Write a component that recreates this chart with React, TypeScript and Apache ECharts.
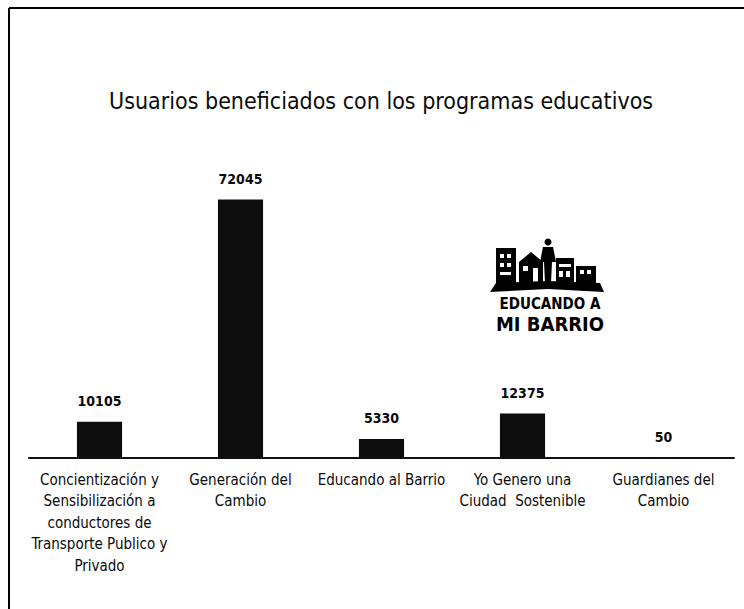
import React, { useEffect, useRef } from "react";
import * as echarts from "echarts";

const categories = [
  "Concientización y\nSensibilización a\nconductores de\nTransporte Publico y\nPrivado",
  "Generación del\nCambio",
  "Educando al Barrio",
  "Yo Genero una\nCiudad  Sostenible",
  "Guardianes del\nCambio",
];
const values = [10105, 72045, 5330, 12375, 50];
const title = "Usuarios beneficiados con los programas educativos";
const logoLines = ["EDUCANDO A", "MI BARRIO"];

const FONT = "'Liberation Sans Narrow', 'DejaVu Sans Condensed', 'Roboto', sans-serif";

export default function App() {
  const ref = useRef<HTMLDivElement>(null);
  useEffect(() => {
    if (!ref.current) return;
    const chart = echarts.init(ref.current, null, { renderer: "svg" });
    const ink = "#0a0a0a";
    chart.setOption({
      animation: false,
      backgroundColor: "#ffffff",
      title: {
        text: title,
        left: 104,
        top: 84,
        textStyle: { fontFamily: FONT, fontSize: 23, fontWeight: "normal", color: ink },
      },
      grid: { left: 29, right: 10, top: 171, bottom: 151, containLabel: false },
      xAxis: {
        type: "category",
        data: categories,
        axisLine: { show: true, lineStyle: { color: "#111", width: 2 } },
        axisTick: { show: false },
        axisLabel: {
          interval: 0,
          margin: 11,
          fontFamily: FONT,
          fontSize: 15,
          lineHeight: 21.5,
          color: ink,
        },
      },
      yAxis: { type: "value", min: 0, max: 80000, show: false, splitLine: { show: false } },
      series: [
        {
          type: "bar",
          data: values,
          barWidth: "32%",
          itemStyle: { color: "#0d0d0d" },
          label: {
            show: true,
            position: "top",
            distance: 14,
            fontFamily: FONT,
            fontSize: 14,
            fontWeight: "bold",
            color: ink,
          },
        },
      ],
      graphic: [
        // frame
        { type: "line", shape: { x1: 9, y1: 8, x2: 744, y2: 8 }, style: { stroke: "#000", lineWidth: 2 } },
        { type: "line", shape: { x1: 9, y1: 8, x2: 9, y2: 609 }, style: { stroke: "#000", lineWidth: 2 } },
        // logo
        { type: "rect", shape: { x: 496, y: 248, width: 20, height: 35 }, style: { fill: "#000" } },
        { type: "rect", shape: { x: 500, y: 254, width: 4, height: 4 }, style: { fill: "#fff" } },
        { type: "rect", shape: { x: 507, y: 254, width: 4, height: 4 }, style: { fill: "#fff" } },
        { type: "rect", shape: { x: 500, y: 263, width: 4, height: 4 }, style: { fill: "#fff" } },
        { type: "rect", shape: { x: 507, y: 263, width: 4, height: 4 }, style: { fill: "#fff" } },
        { type: "rect", shape: { x: 500, y: 272, width: 11, height: 3 }, style: { fill: "#fff" } },
        { type: "polygon", shape: { points: [[519, 262], [531, 252], [543, 262], [543, 283], [519, 283]] }, style: { fill: "#000" } },
        { type: "rect", shape: { x: 523, y: 266, width: 5, height: 5 }, style: { fill: "#fff" } },
        { type: "rect", shape: { x: 533, y: 268, width: 5, height: 15 }, style: { fill: "#fff" } },
        { type: "circle", shape: { cx: 548, cy: 242, r: 3.5 }, style: { fill: "#000" } },
        { type: "polygon", shape: { points: [[543, 247], [553, 247], [556, 262], [552, 262], [551, 283], [545, 283], [544, 262], [540, 262]] }, style: { fill: "#000" } },
        { type: "rect", shape: { x: 556, y: 258, width: 18, height: 25 }, style: { fill: "#000" } },
        { type: "rect", shape: { x: 559, y: 264, width: 12, height: 3 }, style: { fill: "#fff" } },
        { type: "rect", shape: { x: 559, y: 271, width: 4, height: 6 }, style: { fill: "#fff" } },
        { type: "rect", shape: { x: 566, y: 271, width: 4, height: 6 }, style: { fill: "#fff" } },
        { type: "rect", shape: { x: 576, y: 266, width: 20, height: 17 }, style: { fill: "#000" } },
        { type: "rect", shape: { x: 580, y: 270, width: 4, height: 4 }, style: { fill: "#fff" } },
        { type: "rect", shape: { x: 587, y: 270, width: 4, height: 4 }, style: { fill: "#fff" } },
        { type: "polygon", shape: { points: [[490, 292], [496, 283], [548, 281], [600, 283], [604, 292], [548, 289]] }, style: { fill: "#000" } },
        {
          type: "text",
          style: { x: 550, y: 304, text: logoLines[0], align: "center", verticalAlign: "middle", lineHeight: 13, fontFamily: "'DejaVu Sans Condensed', sans-serif", fontWeight: "bold", fontSize: 15, fill: "#000" },
        },
        {
          type: "text",
          style: { x: 550, y: 324, text: logoLines[1], align: "center", verticalAlign: "middle", lineHeight: 17, fontFamily: "'DejaVu Sans Condensed', sans-serif", fontWeight: "bold", fontSize: 20, fill: "#000" },
        },
      ],
    });
    return () => chart.dispose();
  }, []);
  return (
    <div
      ref={ref}
      style={{ position: "fixed", left: 0, top: 0, width: 744, height: 609, background: "#fff" }}
    />
  );
}
